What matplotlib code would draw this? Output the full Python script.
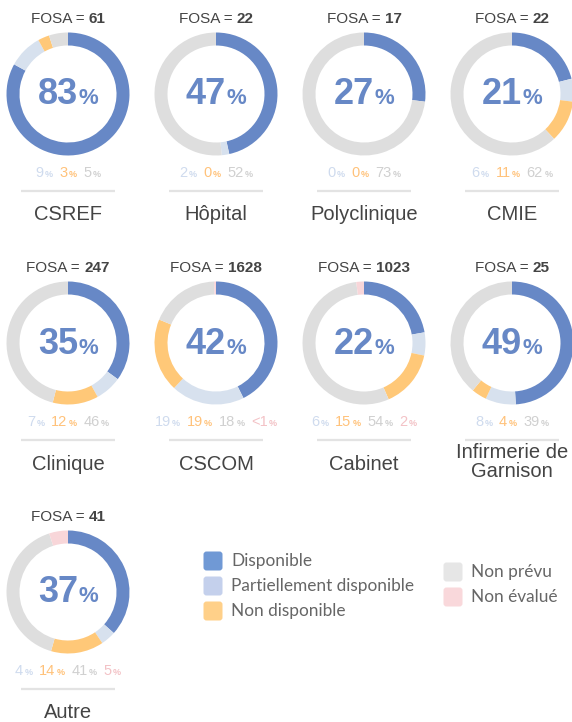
import matplotlib
matplotlib.use("Agg")
import matplotlib.pyplot as plt
from matplotlib.offsetbox import TextArea, HPacker, AnnotationBbox
from matplotlib.patches import FancyBboxPatch

# --- data -------------------------------------------------------------
types = ["CSREF", "Hôpital", "Polyclinique", "CMIE",
         "Clinique", "CSCOM", "Cabinet", "Infirmerie de\nGarnison",
         "Autre"]
fosa = [61, 22, 17, 22, 247, 1628, 1023, 25, 41]
disponible = [83, 47, 27, 21, 35, 42, 22, 49, 37]
partiel = [9, 2, 0, 6, 7, 19, 6, 8, 4]
non_dispo = [3, 0, 0, 11, 12, 19, 15, 4, 14]
non_prevu = [5, 52, 73, 62, 46, 18, 54, 39, 41]
non_evalue = [0, 0, 0, 0, 0, 0.5, 2, 0, 5]
# text shown for the "non évalué" share (None = not shown)
non_evalue_lbl = [None, None, None, None, None, "<1", "2", None, "5"]

series_names = ["Disponible", "Partiellement disponible", "Non disponible",
                "Non prévu", "Non évalué"]

# --- styling ----------------------------------------------------------
ring_cols = ["#6788C6", "#D7E1EE", "#FFC878", "#DEDEDE", "#F8D6D9"]
text_cols = ["#6788C6", "#CFDBEE", "#FFC27A", "#D0D0D0", "#F3C2C6"]
legend_cols = ["#7099D5", "#C4D0EC", "#FFD089", "#E6E6E6", "#F9D8DB"]
dark = "#444444"
main_font = "Liberation Sans"

W, H = 572, 722
fig = plt.figure(figsize=(W / 100, H / 100), dpi=100)
ax = fig.add_axes([0, 0, 1, 1])

col_x = [68, 216, 364, 512]
row_top = [0, 249, 498]
R = 61.5
ring_w = 13


def py(y):
    """pixel row (from top) -> data y"""
    return H - y


def packed(parts, xy, align="baseline", sep=0):
    boxes = [TextArea(s, textprops=p) for s, p in parts]
    pack = HPacker(children=boxes, align=align, pad=0, sep=sep)
    ab = AnnotationBbox(pack, xy, frameon=False, box_alignment=(0.5, 0.5),
                        pad=0, xycoords="data")
    ax.add_artist(ab)


for i, name in enumerate(types):
    cx = col_x[i % 4]
    top = row_top[i // 4]
    cy = py(top + 94)
    vals = [disponible[i], partiel[i], non_dispo[i], non_prevu[i],
            non_evalue[i]]
    ax.pie(vals, colors=ring_cols, startangle=90, counterclock=False,
           radius=R, center=(cx, cy), frame=True,
           wedgeprops=dict(width=ring_w, linewidth=0))

    # FOSA count
    packed([("FOSA = ", dict(color=dark, fontsize=11, family=main_font)),
            (str(fosa[i]), dict(color=dark, fontsize=11, family=main_font,
                                fontweight="bold"))],
           (cx, py(top + 19)))

    # central share of "Disponible"
    packed([(str(disponible[i]), dict(color=ring_cols[0], fontsize=26,
                                      family=main_font, fontweight="bold")),
            ("%", dict(color=ring_cols[0], fontsize=16, family=main_font,
                       fontweight="bold"))],
           (cx, py(top + 95)), sep=0)

    # other shares under the ring
    shares = [(str(partiel[i]), text_cols[1]),
              (str(non_dispo[i]), text_cols[2]),
              (str(non_prevu[i]), text_cols[3])]
    if non_evalue_lbl[i] is not None:
        shares.append((non_evalue_lbl[i], text_cols[4]))
    parts = []
    for k, (s, c) in enumerate(shares):
        parts.append((s, dict(color=c, fontsize=10.5, family=main_font)))
        parts.append(("%" + ("  " if k < len(shares) - 1 else ""),
                      dict(color=c, fontsize=6.5, family=main_font,
                           fontweight="bold")))
    packed(parts, (cx, py(top + 173)), sep=1)

    # separator and category label
    ax.plot([cx - 47, cx + 47], [py(top + 190.5)] * 2, color="#E3E3E3",
            lw=1.6, solid_capstyle="butt")
    ax.text(cx, py(top + 215 if "\n" not in name else top + 213), name,
            ha="center", va="center", fontsize=14.5, color=dark,
            family=main_font, linespacing=0.95)

# --- legend -----------------------------------------------------------
leg_pos = [(203, 561), (203, 586), (203, 611), (443, 572), (443, 597)]
for name, col, (lx, ly) in zip(series_names, legend_cols, leg_pos):
    ax.add_patch(FancyBboxPatch((lx + 2, py(ly) - 8), 16, 16,
                                boxstyle="round,pad=1.5,rounding_size=3",
                                fc=col, ec="none"))
    ax.text(lx + 28, py(ly), name, ha="left", va="center", fontsize=12.4,
            color="#666666", family="Lato")

ax.set_xlim(0, W)
ax.set_ylim(0, H)
ax.set_aspect("equal")
ax.axis("off")
fig.savefig("out.png", dpi=100, facecolor="white")
